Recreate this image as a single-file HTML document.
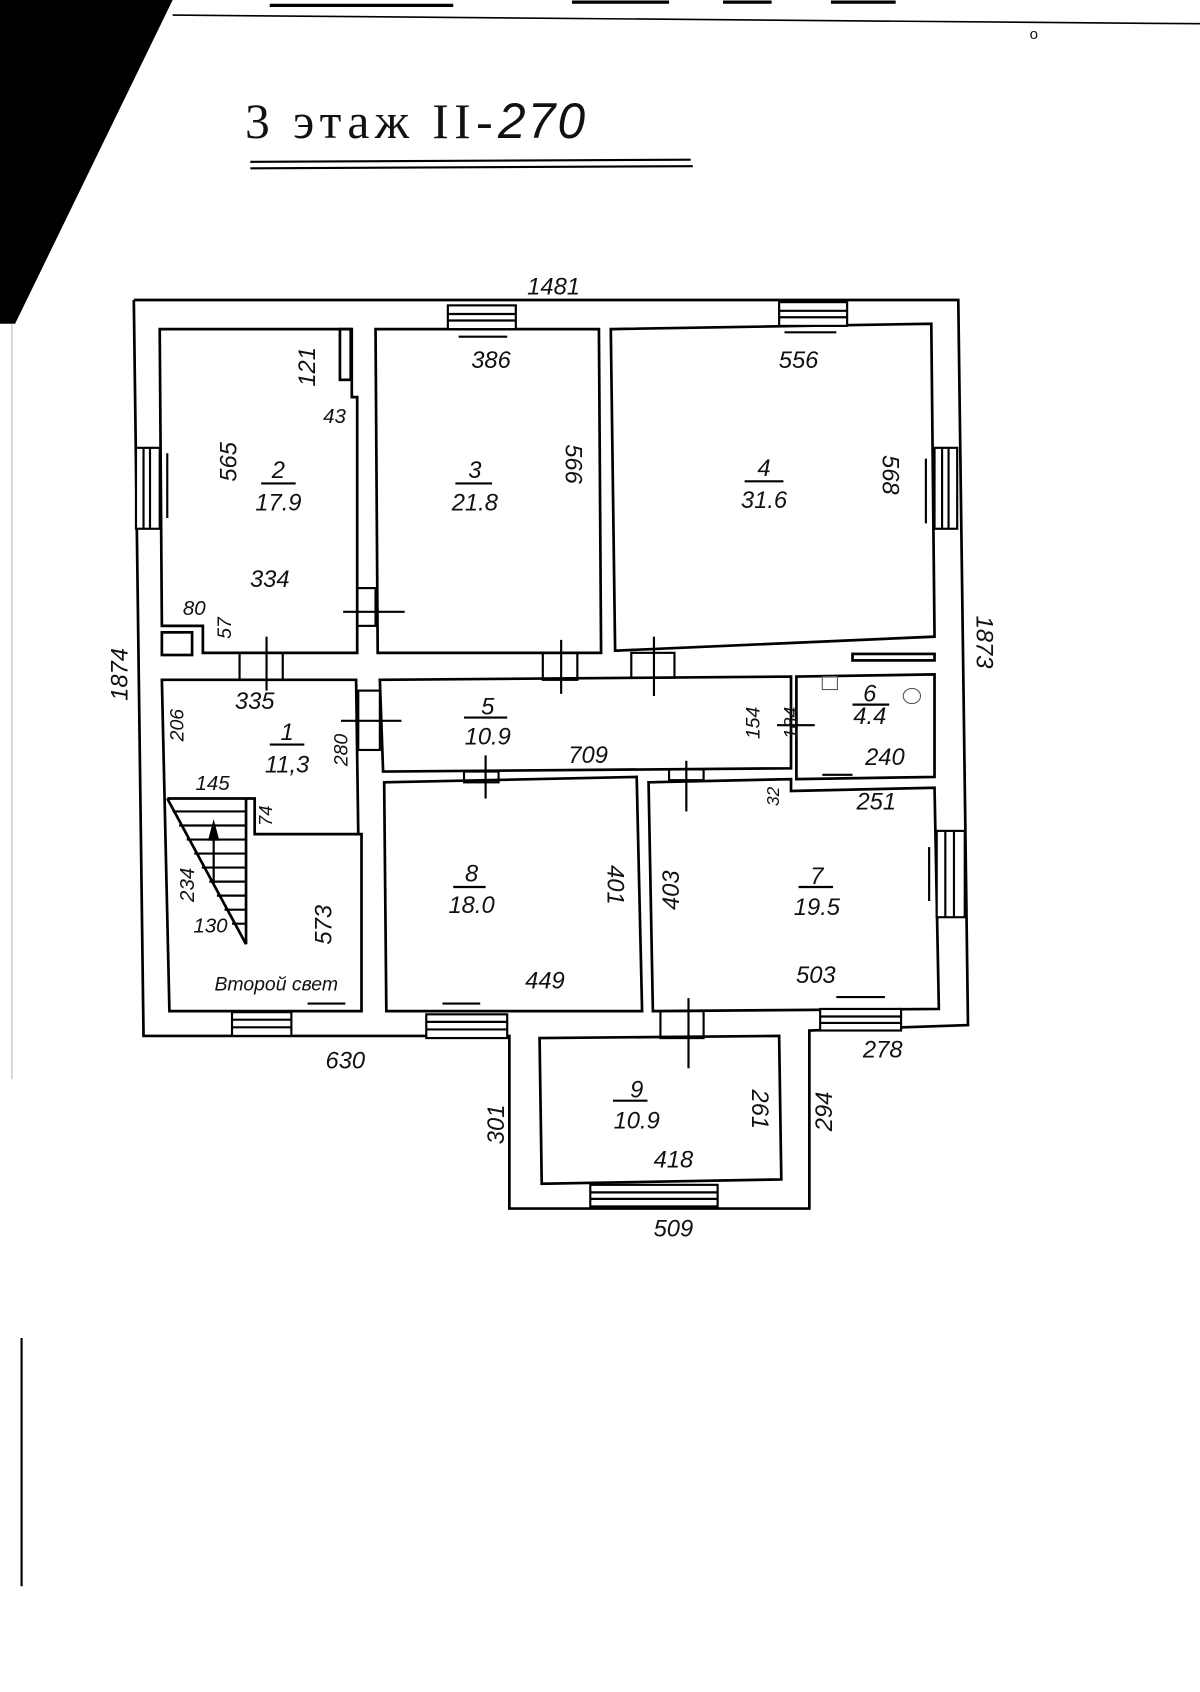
<!DOCTYPE html>
<html><head><meta charset="utf-8"><style>
html,body{margin:0;padding:0;background:#fff;}
svg{display:block;}
text{font-family:"Liberation Sans",sans-serif;font-style:italic;fill:#111;font-size:22px;text-anchor:middle;}
</style></head><body>
<svg width="1200" height="1692" viewBox="0 0 1112 1568" preserveAspectRatio="none" xmlns="http://www.w3.org/2000/svg">
<rect width="1112" height="1568" fill="#fff"/>
<polygon points="0,0 160,0 14,300 0,300" fill="#000"/>
<line x1="11" y1="300" x2="11" y2="1000" stroke="#bbb" stroke-width="1"/>
<line x1="20" y1="1240" x2="20" y2="1470" stroke="#000" stroke-width="2"/>
<g stroke="#000" stroke-width="3">
<line x1="160" y1="14" x2="1112" y2="22" stroke-width="1.5"/>
<line x1="250" y1="5" x2="420" y2="5"/><line x1="530" y1="2" x2="620" y2="2"/><line x1="670" y1="2" x2="715" y2="2"/><line x1="770" y1="2" x2="830" y2="2"/>
</g>
<text x="958" y="36" style="font-size:14px;font-style:normal">o</text>
<text x="227" y="128" style="font-family:'Liberation Serif','Noto Serif CJK SC',serif;font-style:normal;font-size:46px;text-anchor:start;letter-spacing:5px">3 этаж II-<tspan style="font-family:'Liberation Sans',sans-serif;font-style:italic;letter-spacing:2px">270</tspan></text>
<line x1="232" y1="150" x2="640" y2="148" stroke="#000" stroke-width="2"/>
<line x1="232" y1="156" x2="642" y2="154" stroke="#000" stroke-width="2"/>

<g fill="none" stroke="#000" stroke-width="2.5">
<polyline points="124,278 888,278 897,950 750,955 750,1120 472,1120 472,960 133,960 124,278"/>
<polygon points="148,305 326,305 326,368 331,368 331,605 188,605 188,580 150,580"/>
<rect x="315" y="305" width="10" height="47"/>
<rect x="150" y="586" width="28" height="21"/>
<polygon points="348,305 555,305 557,605 350,605"/>
<polygon points="566,305 863,300 866,590 570,603"/>
<rect x="790" y="606" width="76" height="6"/>
<polygon points="150,630 330,630 332,773 335,773 335,937 157,937"/>
<polyline points="155,740 236,740 236,773 332,773"/>
<line x1="155" y1="740" x2="228" y2="875"/>
<line x1="228" y1="740" x2="228" y2="875"/>
<polygon points="352,630 733,627 733,712 355,715"/>
<polygon points="738,627 866,625 866,720 738,722"/>
<polygon points="356,725 590,720 595,937 358,937"/>
<polygon points="601,725 733,722 733,733 866,730 870,935 605,937"/>
<polygon points="500,962 722,960 724,1093 502,1097"/>
</g>
<g stroke="#000" stroke-width="2">
<line x1="160" y1="752" x2="228" y2="752"/><line x1="166" y1="765" x2="228" y2="765"/><line x1="173" y1="778" x2="228" y2="778"/>
<line x1="180" y1="791" x2="228" y2="791"/><line x1="187" y1="804" x2="228" y2="804"/><line x1="194" y1="817" x2="228" y2="817"/>
<line x1="201" y1="830" x2="228" y2="830"/><line x1="208" y1="843" x2="228" y2="843"/><line x1="215" y1="856" x2="228" y2="856"/>
<line x1="198" y1="820" x2="198" y2="765"/>
<polygon points="194,778 198,763 202,778" fill="#000"/>
<line x1="318" y1="567" x2="375" y2="567"/><rect x="331" y="545" width="17" height="35" fill="none"/>
<line x1="247" y1="590" x2="247" y2="640"/><rect x="222" y="605" width="40" height="25" fill="none"/>
<line x1="520" y1="593" x2="520" y2="643"/><rect x="503" y="605" width="32" height="25" fill="none"/>
<line x1="606" y1="590" x2="606" y2="645"/><rect x="585" y="605" width="40" height="23" fill="none"/>
<line x1="316" y1="668" x2="372" y2="668"/><rect x="332" y="640" width="20" height="55" fill="none"/>
<line x1="720" y1="672" x2="755" y2="672"/>
<line x1="450" y1="700" x2="450" y2="740"/><rect x="430" y="715" width="32" height="10" fill="none"/>
<line x1="636" y1="705" x2="636" y2="752"/><rect x="620" y="713" width="32" height="10" fill="none"/>
<line x1="638" y1="925" x2="638" y2="990"/><rect x="612" y="937" width="40" height="25" fill="none"/>
<rect x="415" y="283" width="63" height="22" fill="#fff"/><line x1="415" y1="291" x2="478" y2="291"/><line x1="415" y1="297" x2="478" y2="297"/><line x1="425" y1="312" x2="470" y2="312"/>
<rect x="722" y="280" width="63" height="22" fill="#fff"/><line x1="722" y1="288" x2="785" y2="288"/><line x1="722" y1="294" x2="785" y2="294"/><line x1="727" y1="308" x2="775" y2="308"/>
<rect x="126" y="415" width="22" height="75" fill="#fff"/><line x1="133" y1="415" x2="133" y2="490"/><line x1="139" y1="415" x2="139" y2="490"/><line x1="155" y1="420" x2="155" y2="480"/>
<rect x="866" y="415" width="21" height="75" fill="#fff"/><line x1="873" y1="415" x2="873" y2="490"/><line x1="879" y1="415" x2="879" y2="490"/><line x1="858" y1="425" x2="858" y2="485"/>
<rect x="868" y="770" width="26" height="80" fill="#fff"/><line x1="876" y1="770" x2="876" y2="850"/><line x1="884" y1="770" x2="884" y2="850"/><line x1="861" y1="785" x2="861" y2="835"/>
<rect x="215" y="938" width="55" height="22" fill="#fff"/><line x1="215" y1="945" x2="270" y2="945"/><line x1="215" y1="952" x2="270" y2="952"/><line x1="285" y1="930" x2="320" y2="930"/>
<rect x="395" y="940" width="75" height="22" fill="#fff"/><line x1="395" y1="947" x2="470" y2="947"/><line x1="395" y1="954" x2="470" y2="954"/><line x1="410" y1="930" x2="445" y2="930"/>
<rect x="760" y="935" width="75" height="20" fill="#fff"/><line x1="760" y1="942" x2="835" y2="942"/><line x1="760" y1="948" x2="835" y2="948"/><line x1="775" y1="924" x2="820" y2="924"/>
<rect x="547" y="1098" width="118" height="20" fill="#fff"/><line x1="547" y1="1105" x2="665" y2="1105"/><line x1="547" y1="1111" x2="665" y2="1111"/>
<line x1="762" y1="718" x2="790" y2="718"/>
<line x1="242" y1="448" x2="274" y2="448"/><line x1="422" y1="448" x2="456" y2="448"/><line x1="690" y1="446" x2="726" y2="446"/>
<line x1="250" y1="690" x2="282" y2="690"/><line x1="430" y1="665" x2="470" y2="665"/><line x1="790" y1="653" x2="824" y2="653"/>
<line x1="420" y1="822" x2="450" y2="822"/><line x1="740" y1="822" x2="772" y2="822"/><line x1="568" y1="1020" x2="600" y2="1020"/>
</g>
<rect x="762" y="627" width="14" height="12" fill="none" stroke="#555" stroke-width="1"/>
<ellipse cx="845" cy="645" rx="8" ry="7" fill="none" stroke="#555" stroke-width="1"/>

<text x="513" y="273">1481</text>
<text x="455" y="341">386</text><text x="740" y="341">556</text>
<text transform="translate(292,340) rotate(-90)">121</text>
<text x="310" y="392" style="font-size:19px">43</text>
<text transform="translate(219,428) rotate(-90)">565</text>
<text x="258" y="443">2</text><text x="258" y="473">17.9</text>
<text x="440" y="443">3</text><text x="440" y="473">21.8</text>
<text transform="translate(524,430) rotate(90)">566</text>
<text x="708" y="441">4</text><text x="708" y="471">31.6</text>
<text transform="translate(818,440) rotate(90)">568</text>
<text x="250" y="544">334</text>
<text x="180" y="570" style="font-size:19px">80</text>
<text transform="translate(214,582) rotate(-90)" style="font-size:18px">57</text>
<text transform="translate(118,625) rotate(-90)">1874</text>
<text transform="translate(905,595) rotate(90)">1873</text>
<text x="236" y="657">335</text>
<text transform="translate(170,672) rotate(-90)" style="font-size:18px">206</text>
<text x="266" y="686">1</text><text x="266" y="716">11,3</text>
<text transform="translate(322,695) rotate(-90)" style="font-size:18px">280</text>
<text x="452" y="662">5</text><text x="452" y="690">10.9</text>
<text x="545" y="707">709</text>
<text transform="translate(704,670) rotate(-90)" style="font-size:18px">154</text>
<text transform="translate(739,670) rotate(-90)" style="font-size:18px">184</text>
<text x="806" y="650">6</text><text x="806" y="671">4.4</text>
<text x="820" y="709">240</text>
<text x="197" y="732" style="font-size:19px">145</text>
<text transform="translate(252,756) rotate(-90)" style="font-size:17px">74</text>
<text transform="translate(722,738) rotate(-90)" style="font-size:16px">32</text>
<text x="812" y="750">251</text>
<text transform="translate(180,820) rotate(-90)" style="font-size:19px">234</text>
<text x="437" y="817">8</text><text x="437" y="846">18.0</text>
<text transform="translate(563,820) rotate(90)">401</text>
<text transform="translate(629,825) rotate(-90)">403</text>
<text x="757" y="819">7</text><text x="757" y="848">19.5</text>
<text x="195" y="864" style="font-size:19px">130</text>
<text transform="translate(307,857) rotate(-90)">573</text>
<text x="256" y="918" style="font-size:18px">Второй свет</text>
<text x="505" y="916">449</text><text x="756" y="911">503</text>
<text x="320" y="990">630</text><text x="818" y="980">278</text>
<text transform="translate(467,1042) rotate(-90)">301</text>
<text x="590" y="1017">9</text><text x="590" y="1046">10.9</text>
<text transform="translate(697,1028) rotate(90)">261</text>
<text transform="translate(771,1030) rotate(-90)">294</text>
<text x="624" y="1082">418</text>
<text x="624" y="1146">509</text>
</svg>
</body></html>
